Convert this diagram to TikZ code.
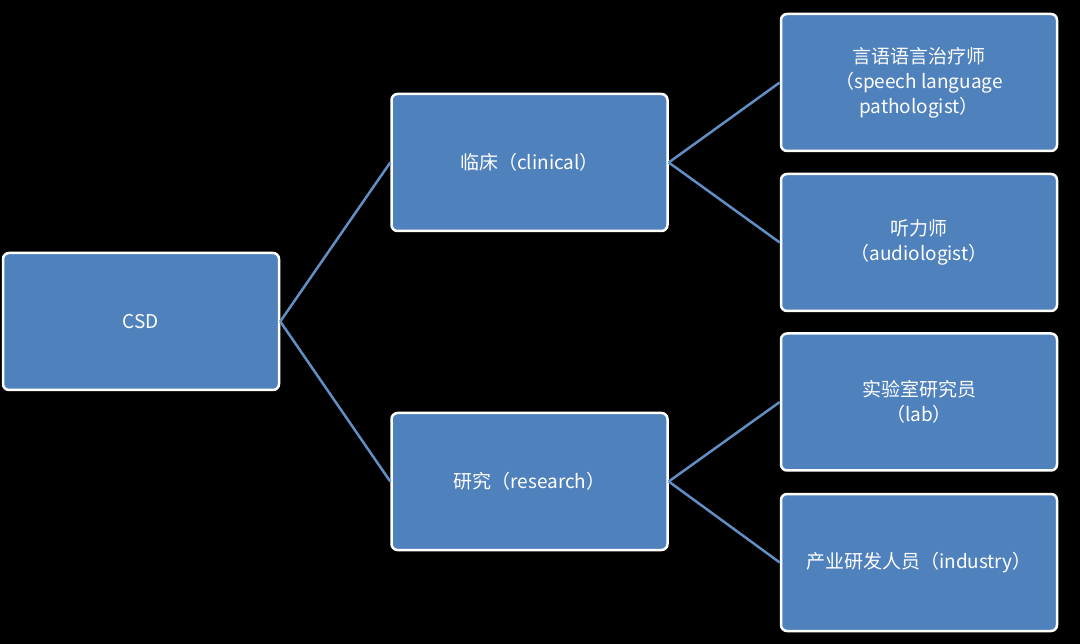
\documentclass[tikz,border=0pt]{standalone}
\usepackage{fontspec}
\setmainfont{Noto Sans CJK SC}
\usetikzlibrary{positioning}
\definecolor{boxblue}{HTML}{4F81BD}
\begin{document}
\begin{tikzpicture}[x=1pt,y=1pt,
	box/.style={draw=white, line width=2.5pt, fill=boxblue, rounded corners=6pt, minimum width=276pt, minimum height=137pt, text=white, font=\fontsize{19}{25}\selectfont, align=center},
	link/.style={draw=boxblue!90!white, line width=2.5pt}]
		\fill[black] (0,0) rectangle (1080,-644);
		\draw (141.0, -321.5)node[box](csd){CSD};
		\draw (529.5, -162.5)node[box](clin){临床（clinical）};
		\draw (529.5, -481.5)node[box](res){研究（research）};
		\draw (919.0, -82.5)node[box](slp){言语语言治疗师\\（speech language\\pathologist）};
		\draw (919.0, -242.5)node[box](aud){听力师\\（audiologist）};
		\draw (919.0, -402.0)node[box](lab){实验室研究员\\（lab）};
		\draw (919.0, -562.5)node[box](ind){\hspace*{-12pt}产业研发人员（industry）\hspace*{-12pt}};
		\path[link] (csd.east) -- (clin.west);
		\path[link] (csd.east) -- (res.west);
		\path[link] (clin.east) -- (slp.west);
		\path[link] (clin.east) -- (aud.west);
		\path[link] (res.east) -- (lab.west);
		\path[link] (res.east) -- (ind.west);
\end{tikzpicture}
\end{document}
